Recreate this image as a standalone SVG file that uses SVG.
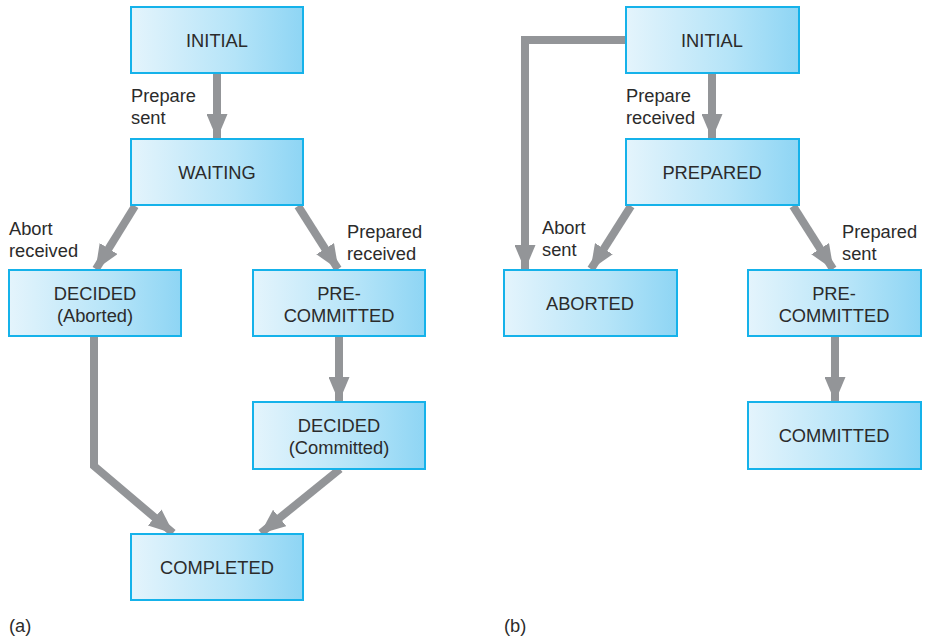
<svg xmlns="http://www.w3.org/2000/svg" width="927" height="638" viewBox="0 0 927 638">
<defs>
<linearGradient id="g" x1="0" y1="0" x2="1" y2="0">
<stop offset="0" stop-color="#e4f4fc"/>
<stop offset="0.6" stop-color="#b5e4f8"/>
<stop offset="1" stop-color="#8ed5f4"/>
</linearGradient>
<marker id="ah" markerUnits="userSpaceOnUse" markerWidth="25" markerHeight="21" viewBox="0 0 25 21" refX="24" refY="10.5" orient="auto">
<path d="M0,0 L25,10.5 L0,21 Z" fill="#939598"/>
</marker>
</defs>
<style>
.box{fill:url(#g);stroke:#15b2ea;stroke-width:2}
.t{font-family:"Liberation Sans",Arial,sans-serif;font-size:18.3px;fill:#2b2b2b;text-anchor:middle}
.l{font-family:"Liberation Sans",Arial,sans-serif;font-size:18.3px;fill:#2b2b2b}
.c{fill:none;stroke:#939598;stroke-width:8;marker-end:url(#ah)}
</style>
<g id="connectors">
<path class="c" d="M217,73 L217,138"/>
<path class="c" d="M135,206 L96,269"/>
<path class="c" d="M298,206 L338,269"/>
<path class="c" d="M94,336 L94,466 L173,533"/>
<path class="c" d="M339,336 L339,401"/>
<path class="c" d="M340,469 L261,533"/>
<path class="c" d="M626,40 L525,40 L525,269"/>
<path class="c" d="M712,73 L712,138"/>
<path class="c" d="M631,206 L591,269"/>
<path class="c" d="M793,206 L833,269"/>
<path class="c" d="M835,336 L835,401"/>
</g>
<g id="a-initial"><rect class="box" x="131" y="7" width="172" height="66"/><text class="t" x="217" y="47">INITIAL</text></g>
<g id="a-waiting"><rect class="box" x="131" y="139" width="172" height="66"/><text class="t" x="217" y="179">WAITING</text></g>
<g id="a-decided-aborted"><rect class="box" x="9" y="270" width="172" height="66"/><text class="t" x="95" y="300">DECIDED</text><text class="t" x="95" y="322">(Aborted)</text></g>
<g id="a-precommitted"><rect class="box" x="253" y="270" width="172" height="66"/><text class="t" x="339" y="300">PRE-</text><text class="t" x="339" y="322">COMMITTED</text></g>
<g id="a-decided-committed"><rect class="box" x="253" y="402" width="172" height="67"/><text class="t" x="339" y="432">DECIDED</text><text class="t" x="339" y="454">(Committed)</text></g>
<g id="a-completed"><rect class="box" x="131" y="534" width="172" height="66"/><text class="t" x="217" y="574">COMPLETED</text></g>
<g id="b-initial"><rect class="box" x="626" y="7" width="173" height="66"/><text class="t" x="712" y="47">INITIAL</text></g>
<g id="b-prepared"><rect class="box" x="626" y="139" width="173" height="66"/><text class="t" x="712" y="179">PREPARED</text></g>
<g id="b-aborted"><rect class="box" x="504" y="270" width="173" height="66"/><text class="t" x="590" y="310">ABORTED</text></g>
<g id="b-precommitted"><rect class="box" x="748" y="270" width="173" height="66"/><text class="t" x="834" y="300">PRE-</text><text class="t" x="834" y="322">COMMITTED</text></g>
<g id="b-committed"><rect class="box" x="748" y="402" width="173" height="67"/><text class="t" x="834" y="442">COMMITTED</text></g>
<g id="labels">
<text class="l" x="131" y="102">Prepare</text><text class="l" x="131" y="124">sent</text>
<text class="l" x="9" y="235">Abort</text><text class="l" x="9" y="257">received</text>
<text class="l" x="347" y="238">Prepared</text><text class="l" x="347" y="260">received</text>
<text class="l" x="626" y="102">Prepare</text><text class="l" x="626" y="124">received</text>
<text class="l" x="542" y="234">Abort</text><text class="l" x="542" y="256">sent</text>
<text class="l" x="842" y="238">Prepared</text><text class="l" x="842" y="260">sent</text>
<text class="l" x="9" y="632">(a)</text>
<text class="l" x="504" y="632">(b)</text>
</g>
</svg>
